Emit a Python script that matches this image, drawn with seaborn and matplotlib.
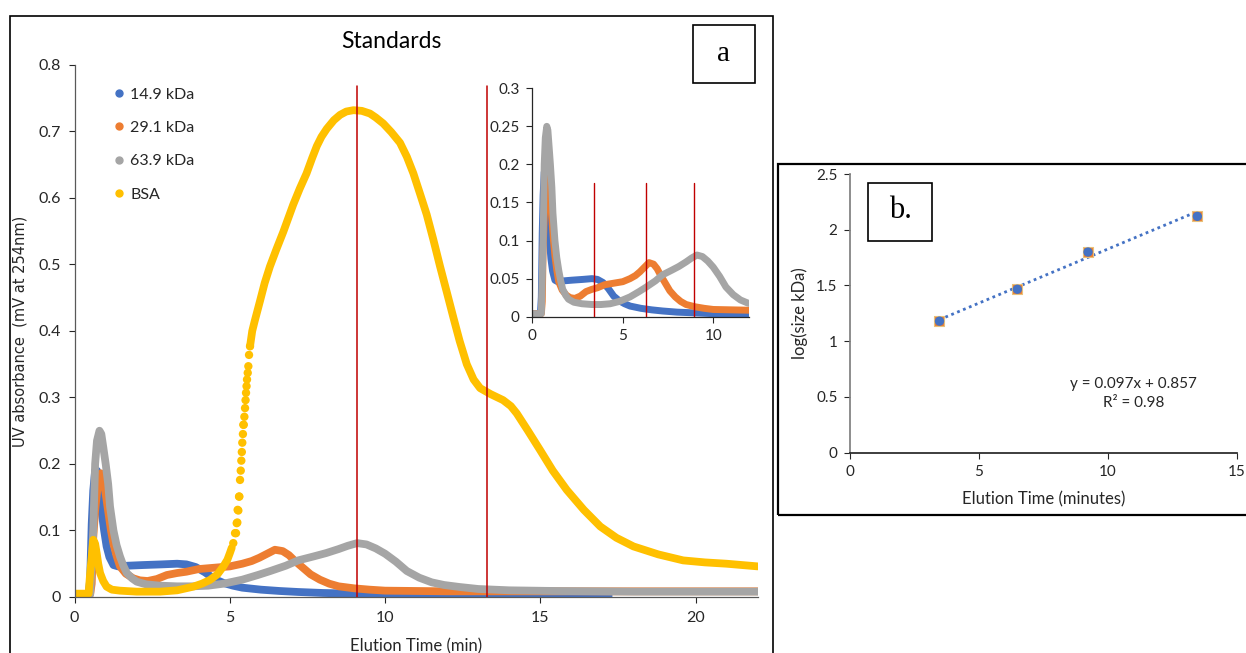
import matplotlib
matplotlib.use("Agg")
import matplotlib.pyplot as plt
import seaborn as sns
import pandas as pd
from matplotlib.lines import Line2D
from matplotlib.patches import Rectangle

# ---------------- data ----------------
t_149 = [0, 0.45, 0.5, 0.55, 0.6, 0.66, 0.72, 0.78, 0.87, 0.95, 1.03, 1.12, 1.25, 1.4, 1.7, 2.2,
         2.8, 3.3, 3.6, 3.9, 4.2, 4.5, 4.8, 5.1, 5.4, 6.0, 6.6, 7.2, 8.0, 9.0, 10.0, 11.0, 12.0,
         13.5, 15.0, 17.2]
v_149 = [0.004, 0.004, 0.026, 0.11, 0.16, 0.19, 0.19, 0.175, 0.128, 0.1, 0.076, 0.06, 0.048, 0.046,
         0.047, 0.048, 0.049, 0.05, 0.049, 0.045, 0.037, 0.027, 0.021, 0.017, 0.014, 0.011, 0.009,
         0.0075, 0.006, 0.005, 0.004, 0.004, 0.003, 0.003, 0.002, 0.002]

t_291 = [0, 0.5, 0.55, 0.6, 0.66, 0.75, 0.85, 0.92, 1.0, 1.09, 1.17, 1.25, 1.35, 1.46, 1.65, 1.89,
         2.1, 2.35, 2.65, 2.97, 3.3, 3.6, 4.0, 4.5, 5.0, 5.4, 5.7, 5.95, 6.2, 6.45, 6.7, 6.9, 7.1,
         7.35, 7.6, 7.9, 8.2, 8.5, 9.0, 9.5, 10.0, 11.0, 12.0, 14.0, 17.0, 22.0]
v_291 = [0.004, 0.004, 0.02, 0.09, 0.13, 0.17, 0.186, 0.178, 0.155, 0.126, 0.1, 0.08, 0.062, 0.046,
         0.035, 0.028, 0.025, 0.024, 0.027, 0.033, 0.036, 0.038, 0.042, 0.044, 0.046, 0.05, 0.054,
         0.059, 0.065, 0.071, 0.069, 0.063, 0.054, 0.044, 0.034, 0.026, 0.02, 0.016, 0.013, 0.011,
         0.0095, 0.009, 0.0085, 0.0085, 0.0085, 0.0085]

t_639 = [0, 0.5, 0.55, 0.6, 0.66, 0.72, 0.8, 0.86, 0.92, 1.0, 1.08, 1.14, 1.25, 1.35, 1.46, 1.57,
         1.68, 1.85, 2.0, 2.3, 2.75, 3.3, 3.8, 4.3, 4.8, 5.4, 5.9, 6.3, 6.8, 7.2, 7.7, 8.1, 8.5, 8.8,
         9.1, 9.4, 9.7, 10.0, 10.35, 10.7, 11.1, 11.5, 11.9, 12.4, 13.0, 14.0, 15.5, 18.0, 22.0]
v_639 = [0.004, 0.004, 0.05, 0.1, 0.2, 0.235, 0.25, 0.245, 0.226, 0.2, 0.17, 0.136, 0.1, 0.078,
         0.061, 0.047, 0.036, 0.028, 0.023, 0.019, 0.017, 0.016, 0.016, 0.017, 0.02, 0.026, 0.033,
         0.039, 0.047, 0.055, 0.061, 0.066, 0.072, 0.077, 0.081, 0.079, 0.073, 0.065, 0.053, 0.039,
         0.029, 0.022, 0.018, 0.015, 0.012, 0.01, 0.009, 0.008, 0.008]

t_bsa = [0, 0.45, 0.5, 0.55, 0.6, 0.66, 0.71, 0.76, 0.82, 0.92, 1.03, 1.2, 1.46, 2.0, 2.75, 3.3,
         3.82, 4.1, 4.36, 4.6, 4.79, 4.92, 5.0, 5.06,
         5.11, 5.166, 5.198, 5.22, 5.24, 5.25, 5.273, 5.295, 5.305, 5.327, 5.35, 5.369, 5.385,
         5.40, 5.42, 5.434, 5.446, 5.467, 5.488, 5.505, 5.52, 5.537, 5.552, 5.575, 5.595, 5.617,
         5.649,
         5.72, 5.8, 5.97, 6.12, 6.29, 6.5, 6.72, 7.04, 7.25, 7.47, 7.65, 7.8, 7.95, 8.12,
         8.35, 8.55, 8.75, 8.98, 9.25, 9.51, 9.7, 9.94, 10.2, 10.48, 10.7, 10.91, 11.12, 11.34,
         11.55, 11.77, 12.0, 12.2, 12.4, 12.63, 12.85, 13.06, 13.4, 13.8, 14.05, 14.24, 14.6,
         14.99, 15.4, 15.85, 16.4, 16.93, 17.45, 18.0, 18.8, 19.6, 20.3, 21.0, 22.0]
v_bsa = [0.005, 0.005, 0.036, 0.06, 0.086, 0.08, 0.066, 0.05, 0.036, 0.024, 0.0155, 0.011, 0.0095,
         0.008, 0.008, 0.01, 0.0155, 0.02, 0.0256, 0.034, 0.046, 0.056, 0.066, 0.074,
         0.081, 0.096, 0.096, 0.111, 0.112, 0.131, 0.130, 0.151, 0.151, 0.176, 0.19, 0.205, 0.218,
         0.232, 0.245, 0.259, 0.259, 0.271, 0.284, 0.296, 0.307, 0.317, 0.327, 0.337, 0.347, 0.364,
         0.377,
         0.40, 0.415, 0.445, 0.472, 0.497, 0.523, 0.549, 0.59, 0.614, 0.637, 0.66, 0.678, 0.692,
         0.704, 0.717, 0.725, 0.73, 0.732, 0.731, 0.727, 0.721, 0.712, 0.699, 0.683, 0.662, 0.637,
         0.607, 0.575, 0.538, 0.497, 0.456, 0.42, 0.385, 0.35, 0.327, 0.314, 0.305, 0.296, 0.287,
         0.276, 0.25, 0.221, 0.19, 0.161, 0.131, 0.106, 0.089, 0.076, 0.064, 0.055, 0.052, 0.05,
         0.046]

series_names = ["14.9 kDa", "29.1 kDa", "63.9 kDa", "BSA"]
series_colors = ["#4472C4", "#ED7D31", "#A5A5A5", "#FFC000"]

main_marks = [9.1, 13.28]       # red reference lines (main)
inset_marks = [3.4, 6.3, 8.95]  # red reference lines (inset)

# calibration (panel b)
cal_time = [3.47, 6.49, 9.23, 13.47]
cal_logsize = [1.18, 1.466, 1.80, 2.12]
fit_slope = 0.097
fit_intercept = 0.857
fit_r2 = 0.98

main_yticks = [0, 0.1, 0.2, 0.3, 0.4, 0.5, 0.6, 0.7, 0.8]
inset_yticks = [0, 0.05, 0.1, 0.15, 0.2, 0.25, 0.3]

# ---------------- style ----------------
sns.set_theme(style="white")
plt.rcParams["font.family"] = ["Lato", "DejaVu Sans"]
TXT = "#262626"

fig = plt.figure(figsize=(12.46, 6.53), dpi=100)

frames = []
for name, t, v in zip(series_names, [t_149, t_291, t_639, t_bsa], [v_149, v_291, v_639, v_bsa]):
    frames.append(pd.DataFrame({"time": t, "abs": v, "series": name}))
df = pd.concat(frames, ignore_index=True)

LW = 5.6
# ---------------- main axes ----------------
ax = fig.add_axes([0.0599, 0.0858, 0.5482, 0.8147])
for name, col in zip(series_names, series_colors):
    sub = df[df.series == name]
    if name == "BSA":
        # the steep rise was sampled sparsely -> separate dots; the rest is a dense dot band
        pre = sub[sub.time <= 5.06]
        rise = sub[(sub.time > 5.06) & (sub.time < 5.7)]
        post = sub[sub.time >= 5.649]
        for part in (pre, post):
            sns.lineplot(data=part, x="time", y="abs", ax=ax, color=col, lw=LW, sort=False,
                         estimator=None, solid_capstyle="round", solid_joinstyle="round",
                         legend=False)
        sns.scatterplot(data=rise, x="time", y="abs", ax=ax, color=col, s=36,
                        edgecolor="none", legend=False, zorder=3)
    else:
        sns.lineplot(data=sub, x="time", y="abs", ax=ax, color=col, lw=LW, sort=False,
                     estimator=None, solid_capstyle="round", solid_joinstyle="round", legend=False)
for m in main_marks:
    ax.plot([m, m], [0, 0.768], color="#C00000", lw=1.1, zorder=5)
ax.set_xlim(0, 22)
ax.set_ylim(0, 0.8)
ax.set_xticks([0, 5, 10, 15, 20])
ax.set_yticks(main_yticks)
ax.set_yticklabels([("%g" % y) for y in main_yticks])
ax.tick_params(axis="both", labelsize=11.5, colors=TXT, length=4, width=0.8, direction="out",
               bottom=True, left=True, pad=6)
for s in ["top", "right"]:
    ax.spines[s].set_visible(False)
for s in ["left", "bottom"]:
    ax.spines[s].set_color("#595959")
    ax.spines[s].set_linewidth(0.9)
ax.set_xlabel("Elution Time (min)", fontsize=12, color=TXT, labelpad=10)
ax.set_ylabel("UV absorbance  (mV at 254nm)", fontsize=10.5, color=TXT,
              family="DejaVu Sans", labelpad=8)
handles = [Line2D([], [], ls="none", marker="o", ms=5, color=c) for c in series_colors]
ax.legend(handles, series_names, loc="upper left", bbox_to_anchor=(0.035, 0.985), frameon=False,
          fontsize=11.5, handletextpad=0.3, labelspacing=1.2, handlelength=0.8,
          labelcolor=TXT)

# ---------------- inset ----------------
ins = fig.add_axes([0.4272, 0.515, 0.1743, 0.3498])
ins.set_facecolor("white")
for name, col in zip(series_names[:3], series_colors[:3]):
    sub = df[df.series == name]
    sns.lineplot(data=sub, x="time", y="abs", ax=ins, color=col, lw=5.0, sort=False,
                 estimator=None, solid_capstyle="round", solid_joinstyle="round", legend=False)
for m in inset_marks:
    ins.plot([m, m], [0, 0.175], color="#C00000", lw=1.0, zorder=5)
ins.set_xlim(0, 12)
ins.set_ylim(0, 0.3)
ins.set_xticks([0, 5, 10])
ins.set_yticks(inset_yticks)
ins.set_yticklabels([("%g" % y) for y in inset_yticks])
ins.tick_params(axis="both", labelsize=11, colors=TXT, length=4, width=0.8, direction="out",
                bottom=True, left=True, pad=5)
ins.set_xlabel("")
ins.set_ylabel("")
for s in ["top", "right"]:
    ins.spines[s].set_visible(False)
for s in ["left", "bottom"]:
    ins.spines[s].set_color("#262626")
    ins.spines[s].set_linewidth(0.9)

# ---------------- panel b ----------------
bx = fig.add_axes([0.6822, 0.3068, 0.3104, 0.4267])
fit_x = [cal_time[0], cal_time[-1]]
fit_y = [fit_slope * x + fit_intercept for x in fit_x]
sns.lineplot(x=fit_x, y=fit_y, ax=bx, color="#4472C4", lw=2.0, linestyle=(0, (1, 1.3)))
cal_df = pd.DataFrame({"time": cal_time, "logsize": cal_logsize})
sns.scatterplot(data=cal_df, x="time", y="logsize", ax=bx, marker="s", s=55, color="#ED7D31",
                edgecolor="#E8C07A", linewidth=0.8, zorder=3)
sns.scatterplot(data=cal_df, x="time", y="logsize", ax=bx, marker="o", s=45, color="#4472C4",
                edgecolor="none", zorder=4)
bx.set_xlim(0, 15)
bx.set_ylim(0, 2.5)
bx.set_xticks([0, 5, 10, 15])
bx.set_yticks([0, 0.5, 1, 1.5, 2, 2.5])
bx.set_yticklabels(["0", "0.5", "1", "1.5", "2", "2.5"])
bx.tick_params(axis="both", labelsize=11, colors=TXT, length=4, width=0.8, direction="out",
               bottom=True, left=True, pad=5)
for s in ["top", "right"]:
    bx.spines[s].set_visible(False)
bx.spines["left"].set_color("#808080")
bx.spines["bottom"].set_color("#262626")
bx.set_xlabel("Elution Time (minutes)", fontsize=12, color=TXT, labelpad=9)
bx.set_ylabel("log(size kDa)", fontsize=12, color=TXT, labelpad=6)
bx.text(11.0, 0.53, "y = %.3fx + %.3f\nR² = %.2f" % (fit_slope, fit_intercept, fit_r2),
        ha="center", va="center", fontsize=11, color=TXT, linespacing=1.45)

# ---------------- frames and panel labels ----------------
W, H = 1246.0, 653.0
def fx(px):
    return px / W
def fy(py):
    return 1 - py / H

fig.text(fx(391), fy(42), "Standards", ha="center", va="center", fontsize=16.5, color="black")

fig.patches.append(Rectangle((fx(10), fy(700)), fx(773) - fx(10), fy(16) - fy(700),
                             transform=fig.transFigure, fill=False, ec="black", lw=1.2,
                             clip_on=False))
fig.patches.append(Rectangle((fx(693), fy(83)), fx(755) - fx(693), fy(25) - fy(83),
                             transform=fig.transFigure, fill=False, ec="black", lw=1.2))
fig.text(fx(724), fy(54), "a", ha="center", va="center", fontsize=21,
         family="Liberation Serif", color="black")

fig.patches.append(Rectangle((fx(778), fy(515)), fx(1260) - fx(778), fy(164) - fy(515),
                             transform=fig.transFigure, fill=False, ec="black", lw=1.6,
                             clip_on=False))
fig.patches.append(Rectangle((fx(868), fy(241)), fx(932) - fx(868), fy(183) - fy(241),
                             transform=fig.transFigure, fill=False, ec="black", lw=1.2))
fig.text(fx(900), fy(211), "b.", ha="center", va="center", fontsize=22,
         family="Liberation Serif", color="black")

fig.savefig("out.png", dpi=100, facecolor="white")
